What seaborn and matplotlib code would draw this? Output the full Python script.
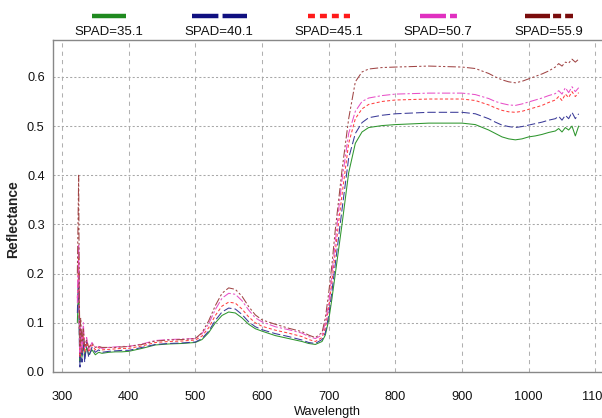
import numpy as np
import pandas as pd
import matplotlib
matplotlib.use("Agg")
import matplotlib.pyplot as plt
from matplotlib.lines import Line2D
from matplotlib.ticker import MultipleLocator
import seaborn as sns

# ---------------- data ----------------
wavelength = [323, 325, 326, 327, 328, 330, 332, 334, 337, 340, 345, 350, 355, 360, 370,
              380, 390, 400, 420, 440, 460, 480, 500, 510, 520, 530, 540, 550, 560, 570,
              580, 590, 600, 620, 640, 660, 670, 680, 690, 695, 700, 705, 710, 715, 720,
              730, 740, 750, 760, 780, 800, 850, 900, 920, 940, 950, 960, 970, 980, 990,
              1000, 1010, 1020, 1030, 1040, 1045, 1050, 1055, 1060, 1065, 1070, 1075]

spad_351 = [0.10, 0.19, 0.08, 0.02, 0.05, 0.03, 0.06, 0.03, 0.05, 0.035, 0.045, 0.035, 0.040, 0.038, 0.040,
            0.041, 0.041, 0.042, 0.048, 0.055, 0.057, 0.058, 0.060, 0.066, 0.080, 0.100, 0.115, 0.122, 0.120, 0.110,
            0.097, 0.088, 0.083, 0.074, 0.068, 0.062, 0.058, 0.056, 0.062, 0.075, 0.105, 0.150, 0.200, 0.250, 0.300,
            0.405, 0.465, 0.488, 0.497, 0.501, 0.503, 0.506, 0.506, 0.503, 0.492, 0.485, 0.478, 0.474, 0.472, 0.474,
            0.478, 0.480, 0.483, 0.487, 0.490, 0.495, 0.488, 0.497, 0.492, 0.500, 0.480, 0.500]

spad_401 = [0.12, 0.21, 0.06, 0.01, 0.06, 0.02, 0.07, 0.02, 0.06, 0.030, 0.050, 0.040, 0.045, 0.040, 0.042,
            0.043, 0.044, 0.044, 0.050, 0.056, 0.058, 0.059, 0.061, 0.068, 0.083, 0.105, 0.122, 0.130, 0.128, 0.117,
            0.102, 0.092, 0.086, 0.078, 0.072, 0.065, 0.060, 0.058, 0.066, 0.080, 0.115, 0.165, 0.220, 0.275, 0.330,
            0.435, 0.485, 0.507, 0.517, 0.522, 0.525, 0.528, 0.528, 0.525, 0.515, 0.508, 0.502, 0.499, 0.497, 0.499,
            0.502, 0.505, 0.508, 0.512, 0.515, 0.520, 0.512, 0.522, 0.515, 0.528, 0.515, 0.525]

spad_451 = [0.15, 0.24, 0.09, 0.03, 0.07, 0.04, 0.08, 0.04, 0.06, 0.040, 0.055, 0.045, 0.050, 0.045, 0.046,
            0.047, 0.048, 0.048, 0.053, 0.060, 0.062, 0.063, 0.065, 0.073, 0.090, 0.115, 0.134, 0.142, 0.140, 0.128,
            0.112, 0.100, 0.093, 0.085, 0.079, 0.072, 0.066, 0.062, 0.070, 0.090, 0.130, 0.185, 0.245, 0.305, 0.360,
            0.465, 0.515, 0.535, 0.544, 0.550, 0.553, 0.555, 0.555, 0.552, 0.543, 0.537, 0.532, 0.529, 0.528, 0.530,
            0.534, 0.538, 0.542, 0.548, 0.553, 0.560, 0.552, 0.565, 0.558, 0.570, 0.560, 0.568]

spad_507 = [0.14, 0.26, 0.10, 0.04, 0.09, 0.05, 0.10, 0.05, 0.07, 0.045, 0.060, 0.050, 0.052, 0.048, 0.050,
            0.051, 0.052, 0.052, 0.057, 0.064, 0.066, 0.067, 0.068, 0.078, 0.098, 0.127, 0.150, 0.160, 0.158, 0.145,
            0.126, 0.110, 0.102, 0.092, 0.086, 0.079, 0.072, 0.068, 0.075, 0.100, 0.140, 0.200, 0.265, 0.330, 0.390,
            0.485, 0.530, 0.550, 0.557, 0.562, 0.565, 0.567, 0.567, 0.564, 0.556, 0.550, 0.546, 0.543, 0.542, 0.545,
            0.549, 0.553, 0.557, 0.562, 0.566, 0.572, 0.565, 0.578, 0.568, 0.580, 0.570, 0.578]

spad_559 = [0.20, 0.40, 0.15, 0.05, 0.11, 0.06, 0.09, 0.05, 0.065, 0.050, 0.058, 0.050, 0.052, 0.050, 0.050,
            0.050, 0.051, 0.052, 0.056, 0.063, 0.065, 0.066, 0.068, 0.080, 0.104, 0.135, 0.160, 0.171, 0.168, 0.154,
            0.133, 0.116, 0.106, 0.097, 0.089, 0.082, 0.075, 0.070, 0.080, 0.110, 0.160, 0.220, 0.290, 0.350, 0.410,
            0.515, 0.590, 0.610, 0.616, 0.619, 0.620, 0.622, 0.620, 0.617, 0.607, 0.600, 0.594, 0.590, 0.588, 0.591,
            0.596, 0.601, 0.606, 0.612, 0.620, 0.627, 0.622, 0.630, 0.628, 0.636, 0.630, 0.636]

series_labels = ["SPAD=35.1", "SPAD=40.1", "SPAD=45.1", "SPAD=50.7", "SPAD=55.9"]
series_values = [spad_351, spad_401, spad_451, spad_507, spad_559]

x_ticks = [300, 400, 500, 600, 700, 800, 900, 1000, 1100]
y_ticks = [0.0, 0.1, 0.2, 0.3, 0.4, 0.5, 0.6]

# ---------------- styles ----------------
colors = ["#1f8a1f", "#101080", "#ff1a1a", "#e030c0", "#7a0c0c"]
plot_colors = ["#2e962e", "#3a3a98", "#ff4040", "#e850c8", "#a04545"]
plot_dashes = [None, (6, 2.2), (2.2, 1.6), (6, 1.6, 1.6, 1.6), (6, 1.6, 1.6, 1.6, 1.6, 1.6)]
legend_dashes = [None, (19, 3), (5, 3.6), (18.7, 2.9, 5, 10), (18, 2.2, 5.8, 2.9, 5.8, 10)]
legend_len_px = [34, 55, 42, 37, 48]
legend_cx_px = [109, 219, 329, 438, 549]

sns.set_style("white")
plt.rcParams["font.family"] = ["Liberation Sans", "DejaVu Sans"]
plt.rcParams["lines.scale_dashes"] = False

W, H = 602, 418
fig = plt.figure(figsize=(W / 100, H / 100), dpi=100)
ax = fig.add_axes([53 / W, (H - 372) / H, (W - 53) / W, (372 - 40) / H])

for lab, vals, col, dsh in zip(series_labels, series_values, plot_colors, plot_dashes):
    sns.lineplot(x=wavelength, y=vals, ax=ax, color=col, lw=0.75, errorbar=None, sort=False)
    ln = ax.lines[-1]
    if dsh is not None:
        ln.set_dashes(dsh)

ax.set_xlim(286.5, 1110)
ax.set_ylim(0, 0.675)
ax.set_xticks(x_ticks)
ax.set_xticklabels([str(t) for t in x_ticks])
ax.set_yticks(y_ticks)
ax.set_yticklabels([f"{t:.1f}" for t in y_ticks])
ax.xaxis.set_minor_locator(MultipleLocator(20))
ax.yaxis.set_minor_locator(MultipleLocator(0.02))

ax.grid(True, which="major", axis="x", color="#b0b0b0", lw=0.75, linestyle=(0, (3, 3)))
ax.grid(True, which="major", axis="y", color="#a8a8a8", lw=0.75, linestyle=(0, (1.5, 1.5)))
ax.set_axisbelow(True)

for s in ["left", "bottom", "top"]:
    ax.spines[s].set_color("#888888")
    ax.spines[s].set_linewidth(1.0)
ax.spines["right"].set_visible(False)

ax.tick_params(axis="x", which="major", direction="out", length=9, width=0.8, color="#b0b0b0",
               labelsize=9.2, pad=5, labelcolor="#111111")
ax.tick_params(axis="y", which="major", direction="out", length=4, width=0.8, color="#b0b0b0",
               labelsize=9.2, pad=2, labelcolor="#111111")
ax.tick_params(axis="both", which="minor", direction="in", length=4, width=0.6, color="#b0b0b0")

ax.set_xlabel("Wavelength", fontsize=9.2, color="#111111")
ax.xaxis.set_label_coords(0.5, -0.102)
ax.set_ylabel("Reflectance", fontsize=10, fontweight="bold", color="#222222")
ax.yaxis.set_label_coords(-0.06, 0.46)

# legend (samples above labels)
for lab, col, dsh, L, cx in zip(series_labels, colors, legend_dashes, legend_len_px, legend_cx_px):
    y = 1 - 15.5 / H
    ln = Line2D([(cx - L / 2) / W, (cx + L / 2) / W], [y, y], transform=fig.transFigure,
                color=col, lw=3.2, solid_capstyle="butt", dash_capstyle="butt")
    if dsh is not None:
        ln.set_dashes(dsh)
    fig.add_artist(ln)
    fig.text(cx / W, 1 - 32 / H, lab, ha="center", va="center", fontsize=9.5, color="#111111")

fig.savefig("out.png", dpi=100)
